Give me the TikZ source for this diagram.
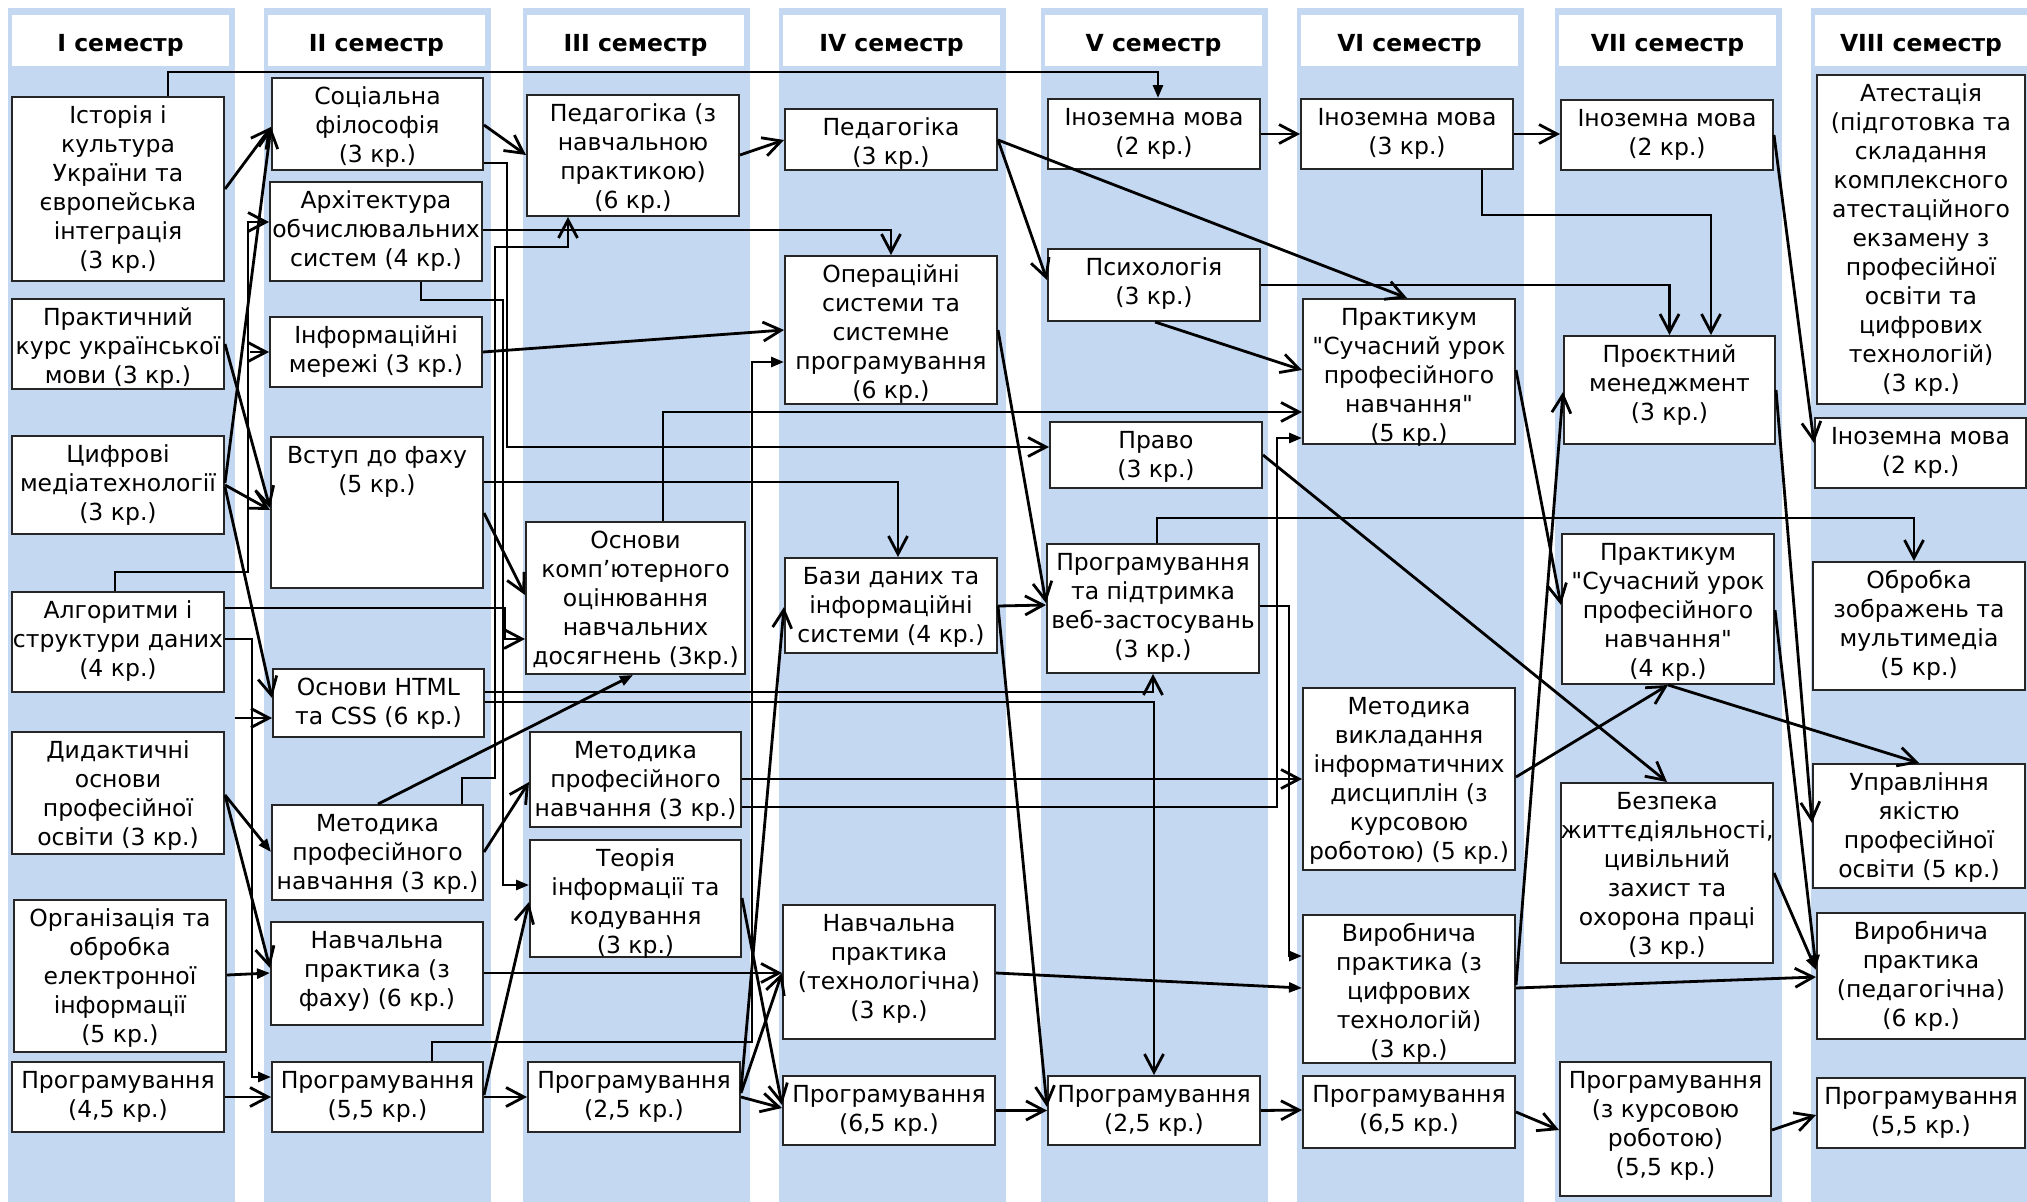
\documentclass[tikz,border=0pt]{standalone}
\usepackage{fontspec}
\setmainfont{DejaVu Sans}[Ligatures=TeXOff]
\usetikzlibrary{arrows.meta,fit}
\definecolor{band}{RGB}{197,216,241}
\newcommand{\fnt}{\fontsize{23.5}{29}\selectfont}
\newcommand{\fst}{\rule{0pt}{23pt}}
\tikzset{
  box/.style={draw=black!85, fill=white, line width=2pt, inner sep=0pt},
  txt/.style={inner sep=0pt, align=center, font=\fnt},
  hdr/.style={fill=white, inner sep=0pt},
  hdt/.style={inner sep=0pt, font=\fnt\bfseries},
  con/.style={line width=2.8pt, black},
  oa/.style={con, -{Straight Barb[length=18pt,width=19pt]}},
  fa/.style={con, -{Triangle[length=13pt,width=10pt]}},
}
\newcommand{\bx}[6]{\node[box, fit={(#2,#3) (#4,#5)}] (#1) {};
  \node[txt, anchor=north] (#1t) at ([yshift=-4.5pt]#1.north) {\fst#6};}
\newcommand{\hd}[4]{\node[hdr, fit={(#2,15) (#3,66)}] (#1) {};
  \node[hdt, anchor=base] (#1t) at ([yshift=-10.5pt]#1.center) {#4};}
\begin{document}
\begin{tikzpicture}[x=1pt,y=-1pt]
\useasboundingbox (0,0) rectangle (2027,1202);
\fill[white] (0,0) rectangle (2027,1202);
% bands
\fill[band] (8,8) rectangle (235,1202);
\fill[band] (264,8) rectangle (491,1202);
\fill[band] (523,8) rectangle (750,1202);
\fill[band] (779,8) rectangle (1006,1202);
\fill[band] (1041,8) rectangle (1268,1202);
\fill[band] (1297,8) rectangle (1524,1202);
\fill[band] (1555,8) rectangle (1782,1202);
\fill[band] (1811,8) rectangle (2027,1202);
% headers
\hd{h1}{12}{229}{I семестр}
\hd{h2}{268}{485}{II семестр}
\hd{h3}{527}{744}{III семестр}
\hd{h4}{783}{1000}{IV семестр}
\hd{h5}{1045}{1262}{V семестр}
\hd{h6}{1301}{1518}{VI семестр}
\hd{h7}{1559}{1776}{VII семестр}
\hd{h8}{1815}{2027}{VIII семестр}
% column I
\bx{ist}{12}{97}{224}{281}{Історія і\\культура\\України та\\європейська\\інтеграція\\(3 кр.)}
\bx{prk}{12}{299}{224}{389}{Практичний\\курс української\\мови (3 кр.)}
\bx{cyf}{12}{436}{224}{534}{Цифрові\\медіатехнології\\(3 кр.)}
\bx{alg}{12}{592}{224}{692}{Алгоритми і\\структури даних\\(4 кр.)}
\bx{dyd}{12}{732}{224}{854}{Дидактичні\\основи\\професійної\\освіти (3 кр.)}
\bx{org}{14}{900}{226}{1052}{Організація та\\обробка\\електронної\\інформації\\(5 кр.)}
\bx{pr1}{12}{1062}{224}{1132}{Програмування\\(4,5 кр.)}
% column II
\bx{soc}{272}{78}{483}{170}{Соціальна\\філософія\\(3 кр.)}
\bx{arh}{270}{182}{482}{281}{Архітектура\\обчислювальних\\систем (4 кр.)}
\bx{mer}{270}{317}{482}{387}{Інформаційні\\мережі (3 кр.)}
\bx{vst}{271}{437}{483}{588}{Вступ до фаху\\(5 кр.)}
\bx{htm}{273}{669}{484}{737}{Основи HTML\\та CSS (6 кр.)}
\bx{met2}{272}{805}{483}{900}{Методика\\професійного\\навчання (3 кр.)}
\bx{nav2}{271}{922}{483}{1025}{Навчальна\\практика (з\\фаху) (6 кр.)}
\bx{pr2}{272}{1062}{483}{1132}{Програмування\\(5,5 кр.)}
% column III
\bx{ped3}{527}{95}{739}{216}{Педагогіка (з\\навчальною\\практикою)\\(6 кр.)}
\bx{okm}{526}{522}{745}{674}{Основи\\комп’ютерного\\оцінювання\\навчальних\\досягнень (3кр.)}
\bx{met3}{530}{732}{741}{827}{Методика\\професійного\\навчання (3 кр.)}
\bx{teo}{530}{840}{741}{957}{Теорія\\інформації та\\кодування\\(3 кр.)}
\bx{pr3}{528}{1062}{740}{1132}{Програмування\\(2,5 кр.)}
% column IV
\bx{ped4}{785}{109}{997}{170}{Педагогіка\\(3 кр.)}
\bx{ops}{785}{256}{997}{404}{Операційні\\системи та\\системне\\програмування\\(6 кр.)}
\bx{bd}{785}{558}{997}{653}{Бази даних та\\інформаційні\\системи (4 кр.)}
\bx{nav4}{783}{905}{995}{1039}{Навчальна\\практика\\(технологічна)\\(3 кр.)}
\bx{pr4}{783}{1076}{995}{1145}{Програмування\\(6,5 кр.)}
% column V
\bx{ino5}{1048}{99}{1260}{169}{Іноземна мова\\(2 кр.)}
\bx{psy}{1048}{249}{1260}{321}{Психологія\\(3 кр.)}
\bx{prv}{1050}{422}{1262}{488}{Право\\(3 кр.)}
\bx{pwe}{1047}{544}{1259}{673}{Програмування\\та підтримка\\веб-застосувань\\(3 кр.)}
\bx{pr5}{1048}{1076}{1260}{1145}{Програмування\\(2,5 кр.)}
% column VI
\bx{ino6}{1301}{99}{1513}{169}{Іноземна мова\\(3 кр.)}
\bx{prk6}{1303}{299}{1515}{444}{Практикум\\"Сучасний урок\\професійного\\навчання"\\(5 кр.)}
\bx{mvk}{1303}{688}{1515}{870}{Методика\\викладання\\інформатичних\\дисциплін (з\\курсовою\\роботою) (5 кр.)}
\bx{vyr6}{1303}{915}{1515}{1063}{Виробнича\\практика (з\\цифрових\\технологій)\\(3 кр.)}
\bx{pr6}{1303}{1076}{1515}{1148}{Програмування\\(6,5 кр.)}
% column VII
\bx{ino7}{1561}{100}{1773}{170}{Іноземна мова\\(2 кр.)}
\bx{prm}{1564}{336}{1775}{444}{Проєктний\\менеджмент\\(3 кр.)}
\bx{prk7}{1562}{534}{1774}{684}{Практикум\\"Сучасний урок\\професійного\\навчання"\\(4 кр.)}
\bx{bez}{1561}{783}{1773}{963}{Безпека\\життєдіяльності,\\цивільний\\захист та\\охорона праці\\(3 кр.)}
\bx{pr7}{1560}{1062}{1771}{1196}{Програмування\\(з курсовою\\роботою)\\(5,5 кр.)}
% column VIII
\bx{ats}{1817}{75}{2025}{404}{Атестація\\(підготовка та\\складання\\комплексного\\атестаційного\\екзамену з\\професійної\\освіти та\\цифрових\\технологій)\\(3 кр.)}
\bx{ino8}{1815}{418}{2026}{488}{Іноземна мова\\(2 кр.)}
\bx{obr}{1813}{562}{2025}{690}{Обробка\\зображень та\\мультимедіа\\(5 кр.)}
\bx{upr}{1813}{764}{2025}{888}{Управління\\якістю\\професійної\\освіти (5 кр.)}
\bx{vyr8}{1817}{913}{2025}{1039}{Виробнича\\практика\\(педагогічна)\\(6 кр.)}
\bx{pr8}{1817}{1078}{2025}{1148}{Програмування\\(5,5 кр.)}
% free ends
\coordinate (smer) at (250,352);
\coordinate (shtm) at (235,718);
% connectors from column I
\draw[fa] (ist.north -| 168,0) |- (1158,72) -- (ino5.north -| 1158,0);
\draw[oa] (ist.east) -- (soc.west |- 0,127);
\draw[oa] (cyf.east |- 0,483) -- (soc.west |- 0,127);
\draw[oa] (prk.east) -- (vst.west |- 0,508);
\draw[oa] (cyf.east) -- (vst.west |- 0,510);
\draw[oa] (cyf.east |- 0,487) -- (htm.west |- 0,698);
\draw[oa] (alg.north -| 115,0) |- (248,572) |- (arh.west |- 0,222);
\draw[oa] (smer) -- (mer.west |- smer);
\draw[oa] (shtm) -- (htm.west |- shtm);
\draw[fa] (alg.east |- 0,639) -| (252,1077) -- (pr2.west |- 0,1077);
\draw[oa] (alg.east |- 0,608) -| (505,639) -- (okm.west |- 0,639);
\draw[fa] (dyd.east |- 0,795) -- (met2.west |- 0,852);
\draw[oa] (dyd.east |- 0,795) -- (nav2.west |- 0,968);
\draw[fa] (org.east |- 0,975) -- (nav2.west |- 0,973);
\draw[oa] (pr1.east) -- (pr2.west);
% from column II
\draw[oa] (soc.east |- 0,125) -- (ped3.west |- 0,155);
\draw[oa] (soc.east |- 0,163) -| (507,447) -- (prv.west |- 0,447);
\draw[oa] (arh.east |- 0,230) -| (ops.north);
\draw[fa] (arh.south -| 421,0) |- (503,300) |- (teo.west |- 0,885);
\draw[oa] (met2.north -| 462,0) |- (495,778) |- (568,247) -- (ped3.south -| 568,0);
\draw[fa] (met2.north -| 378,0) -- (okm.south -| 633,0);
\draw[oa] (mer.east) -- (ops.west |- 0,330);
\draw[oa] (vst.east |- 0,482) -| (bd.north -| 898,0);
\draw[oa] (vst.east |- 0,513) -- (okm.west |- 0,595);
\draw[oa] (htm.east |- 0,692) -| (pwe.south);
\draw[oa] (htm.east |- 0,702) -| (pr5.north);
\draw[oa] (met2.east |- 0,852) -- (met3.west |- 0,782);
\draw[oa] (nav2.east |- 0,973) -- (nav4.west |- 0,973);
\draw[oa] (pr2.east |- 0,1095) -- (teo.west |- 0,902);
\draw[oa] (pr2.east) -- (pr3.west);
\draw[fa] (pr2.north -| 432,0) |- (752,1042) |- (ops.west |- 0,362);
% from column III
\draw[oa] (okm.north -| 663,0) |- (prk6.west |- 0,412);
\draw[oa] (ped3.east |- 0,155) -- (ped4.west |- 0,140);
\draw[oa] (met3.east |- 0,779) -- (mvk.west |- 0,779);
\draw[fa] (met3.east |- 0,807) -| (1277,438) -- (prk6.west |- 0,438);
\draw[oa] (teo.east |- 0,898) -- (pr4.west |- 0,1105);
\draw[oa] (pr3.east |- 0,1097) -- (pr4.west |- 0,1108);
\draw[oa] (pr3.east |- 0,1093) -- (nav4.west |- 0,973);
\draw[oa] (pr3.east |- 0,1090) -- (bd.west |- 0,607);
% from column IV
\draw[oa] (ped4.east |- 0,140) -- (psy.west |- 0,280);
\draw[oa] (ped4.east |- 0,140) -- (prk6.north -| 1407,0);
\draw[oa] (ops.east |- 0,330) -- (pwe.west |- 0,603);
\draw[oa] (bd.east |- 0,606) -- (pwe.west |- 0,605);
\draw[oa] (bd.east |- 0,606) -- (pr5.west |- 0,1107);
\draw[fa] (nav4.east |- 0,973) -- (vyr6.west |- 0,988);
\draw[oa] (pr4.east) -- (pr5.west);
% from column V
\draw[oa] (ino5.east) -- (ino6.west);
\draw[oa] (psy.east |- 0,285) -| (prm.north);
\draw[oa] (psy.south -| 1155,0) -- (prk6.west |- 0,370);
\draw[oa] (prv.east |- 0,455) -- (bez.north);
\draw[oa] (pwe.north -| 1157,0) |- (1914,518) -- (obr.north -| 1914,0);
\draw[fa] (pwe.east |- 0,606) -| (1289,956) -- (vyr6.west |- 0,956);
\draw[oa] (pr5.east) -- (pr6.west |- 0,1110);
% from column VI
\draw[oa] (ino6.east) -- (ino7.west |- 0,134);
\draw[oa] (ino6.south -| 1482,0) |- (1711,215) -- (prm.north -| 1711,0);
\draw[oa] (prk6.east |- 0,370) -- (prk7.west |- 0,605);
\draw[oa] (mvk.east |- 0,777) -- (prk7.south);
\draw[oa] (vyr6.east |- 0,988) -- (vyr8.west |- 0,977);
\draw[oa] (vyr6.east |- 0,985) -- (prm.west |- 0,392);
\draw[oa] (pr6.east |- 0,1112) -- (pr7.west |- 0,1130);
% from column VII
\draw[oa] (ino7.east |- 0,135) -- (ino8.west |- 0,443);
\draw[oa] (prm.east |- 0,390) -- (upr.west |- 0,823);
\draw[fa] (prk7.east |- 0,610) -- (vyr8.west |- 0,968);
\draw[fa] (bez.east |- 0,873) -- (vyr8.west |- 0,970);
\draw[oa] (prk7.south) -- (upr.north);
\draw[oa] (pr7.east |- 0,1130) -- (pr8.west |- 0,1115);
\end{tikzpicture}
\end{document}
